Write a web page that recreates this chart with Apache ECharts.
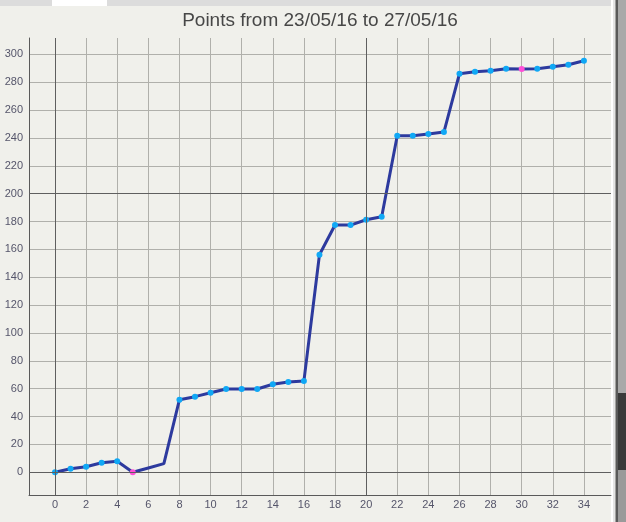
<!DOCTYPE html>
<html>
<head>
<meta charset="utf-8">
<script src="https://cdn.jsdelivr.net/npm/echarts@6/dist/echarts.min.js"></script>
<style>
html,body{margin:0;padding:0;background:#f0f0eb;}
#c{width:626px;height:522px;}
</style>
</head>
<body>
<div id="c"></div>
<script>
// ---- data ----
const titleText = 'Points from 23/05/16 to 27/05/16';
const xValues = [0,1,2,3,4,5,6,7,8,9,10,11,12,13,14,15,16,17,18,19,20,21,22,23,24,25,26,27,28,29,30,31,32,33,34];
const yValues = [0,2.6,4,6.9,7.9,0,3.1,6.2,52.1,54.3,57.1,59.8,59.8,59.8,63.2,64.8,65.5,156.2,177.5,177.5,181.3,183.5,241.6,241.6,242.9,244.3,286.2,287.6,288.3,289.7,289.5,289.7,291.2,292.6,295.5];
const pinkPoints = [5, 30];
const unmarkedPoints = [6, 7];
const xRange = [-1.67, 35.74];
const yRange = [-16.3, 311.8];
const xTickStep = 2;
const yTickStep = 20;
const xMajorLines = [0, 20];
const yMajorLines = [0, 200];

// ---- chart ----
const chart = echarts.init(document.getElementById('c'), null, {renderer: 'canvas'});
const labelFont = {fontFamily: 'Liberation Sans', fontSize: 11, color: '#55556a'};

const seriesData = xValues.map((x, i) => {
  const item = {value: [x, yValues[i]]};
  if (pinkPoints.includes(i)) item.itemStyle = {color: '#ff4fd8'};
  if (unmarkedPoints.includes(i)) item.symbolSize = 0;
  return item;
});

const majorLineData = [
  ...xMajorLines.map(v => ({xAxis: v})),
  ...yMajorLines.map(v => ({yAxis: v}))
];

chart.setOption({
  backgroundColor: '#f0f0eb',
  animation: false,
  title: {
    text: titleText,
    left: 320,
    top: 11,
    padding: 0,
    textAlign: 'center',
    textStyle: {fontFamily: 'Liberation Sans', fontSize: 19, fontWeight: 'normal', color: '#474747'}
  },
  graphic: [
    {type: 'rect', shape: {x: 0, y: 0, width: 626, height: 6}, style: {fill: '#dcdcdc'}, silent: true},
    {type: 'rect', shape: {x: 52, y: 0, width: 55, height: 6}, style: {fill: '#ffffff'}, silent: true},
    {type: 'rect', shape: {x: 611, y: 0, width: 2, height: 522}, style: {fill: '#ffffff'}, silent: true},
    {type: 'rect', shape: {x: 613, y: 0, width: 2.5, height: 522}, style: {fill: '#e4e4e4'}, silent: true},
    {type: 'rect', shape: {x: 615.5, y: 0, width: 2.5, height: 522}, style: {fill: '#5a5a5a'}, silent: true},
    {type: 'rect', shape: {x: 618, y: 0, width: 8, height: 393}, style: {fill: '#a9a9a9'}, silent: true},
    {type: 'rect', shape: {x: 618, y: 393, width: 8, height: 77}, style: {fill: '#3a3a3a'}, silent: true},
    {type: 'rect', shape: {x: 618, y: 470, width: 8, height: 52}, style: {fill: '#9a9a9a'}, silent: true}
  ],
  grid: {left: 29, right: 15, top: 38, bottom: 27, containLabel: false},
  xAxis: {
    type: 'value',
    min: xRange[0],
    max: xRange[1],
    minInterval: xTickStep,
    maxInterval: xTickStep,
    splitNumber: 18,
    axisLine: {show: true, onZero: false, lineStyle: {color: '#5a5a5a', width: 1}},
    axisTick: {show: false},
    axisLabel: Object.assign({margin: 4, showMinLabel: false, showMaxLabel: false}, labelFont),
    splitLine: {show: true, showMinLine: false, showMaxLine: false, lineStyle: {color: '#b0b0ab', width: 1}}
  },
  yAxis: {
    type: 'value',
    min: yRange[0],
    max: yRange[1],
    minInterval: yTickStep,
    maxInterval: yTickStep,
    splitNumber: 16,
    axisLine: {show: true, onZero: false, lineStyle: {color: '#5a5a5a', width: 1}},
    axisTick: {show: false},
    axisLabel: Object.assign({margin: 6, showMinLabel: false, showMaxLabel: false}, labelFont),
    splitLine: {show: true, showMinLine: false, showMaxLine: false, lineStyle: {color: '#b0b0ab', width: 1}}
  },
  series: [{
    type: 'line',
    data: seriesData,
    symbol: 'circle',
    symbolSize: 6,
    showSymbol: true,
    lineStyle: {color: '#2d3a9e', width: 3},
    itemStyle: {color: '#10a8f5', borderWidth: 0},
    emphasis: {disabled: true},
    z: 3,
    markLine: {
      silent: true,
      symbol: ['none', 'none'],
      label: {show: false},
      lineStyle: {color: '#5f5f5f', type: 'solid', width: 1},
      emphasis: {disabled: true},
      data: majorLineData
    }
  }]
});
</script>
</body>
</html>
